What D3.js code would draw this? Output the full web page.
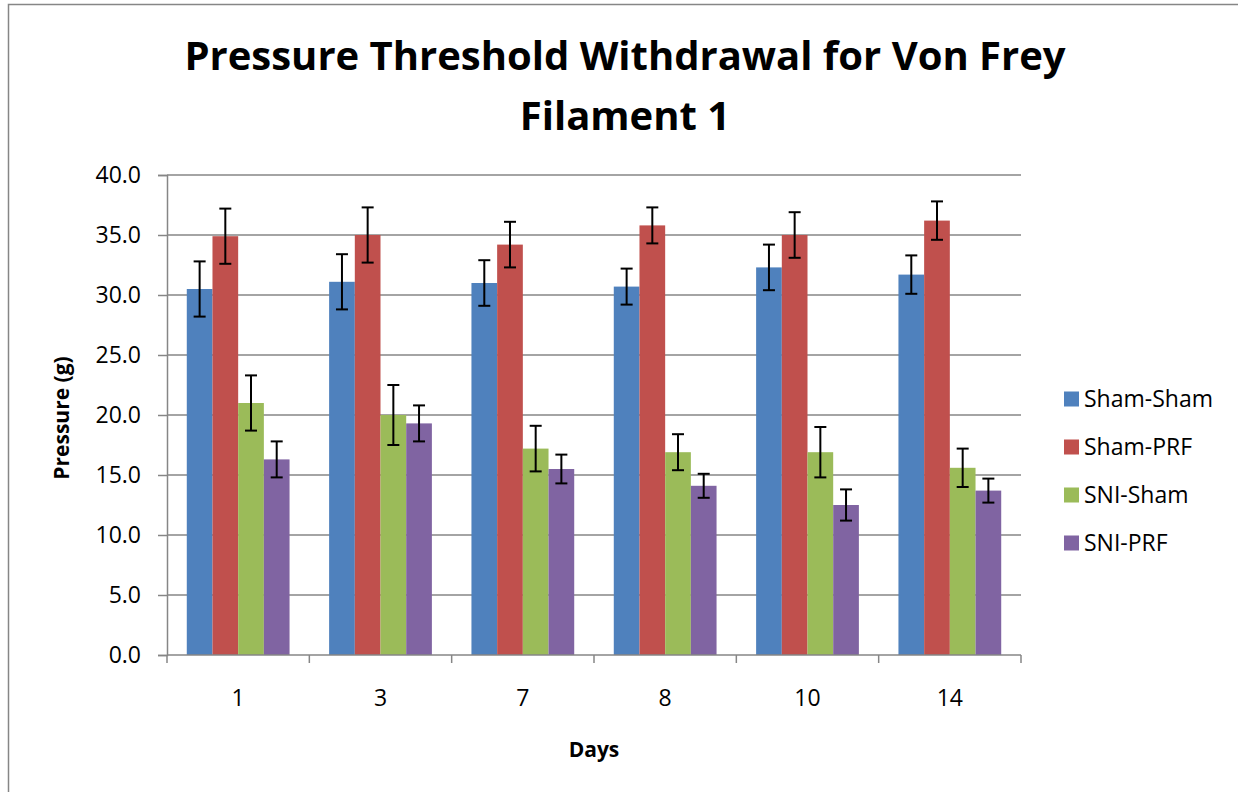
<!DOCTYPE html>
<html>
<head>
<meta charset="utf-8">
<script src="https://cdn.jsdelivr.net/npm/d3@7"></script>
<style>
  html, body { margin: 0; padding: 0; background: #fff; }
  svg { display: block; font-family: "Open Sans", sans-serif; }
</style>
</head>
<body>
<div id="chart"></div>
<script>
// Data.
var days = ['1', '3', '7', '8', '10', '14'];
var groups = ['Sham-Sham', 'Sham-PRF', 'SNI-Sham', 'SNI-PRF'];
var groupColors = ['#4F81BD', '#C0504D', '#9BBB59', '#8064A2'];

// Mean pressure per group, one value per day.
var shamSham = [30.5, 31.1, 31.0, 30.7, 32.3, 31.7];
var shamPrf  = [34.9, 35.0, 34.2, 35.8, 35.0, 36.2];
var sniSham  = [21.0, 20.0, 17.2, 16.9, 16.9, 15.6];
var sniPrf   = [16.3, 19.3, 15.5, 14.1, 12.5, 13.7];

// Error (+/-) per group, one value per day.
var shamShamErr = [2.3, 2.3, 1.9, 1.5, 1.9, 1.6];
var shamPrfErr  = [2.3, 2.3, 1.9, 1.5, 1.9, 1.6];
var sniShamErr  = [2.3, 2.5, 1.9, 1.5, 2.1, 1.6];
var sniPrfErr   = [1.5, 1.5, 1.2, 1.0, 1.3, 1.0];

var yTicks = [0, 5, 10, 15, 20, 25, 30, 35, 40];

var series = [shamSham, shamPrf, sniSham, sniPrf];
var seriesErr = [shamShamErr, shamPrfErr, sniShamErr, sniPrfErr];

var width = 1238, height = 792;
var plot = { left: 167, right: 1021, top: 175, bottom: 655 };
var grey = '#868686';

var svg = d3.select('#chart').append('svg')
    .attr('width', width)
    .attr('height', height);

// Chart border (runs off the right and bottom edges like the picture).
svg.append('rect')
    .attr('x', 8.5).attr('y', 4.5)
    .attr('width', 1300).attr('height', 900)
    .attr('fill', 'none')
    .attr('stroke', grey)
    .attr('stroke-width', 1.5);

// Scales.
var x0 = d3.scaleBand().domain(days).range([plot.left, plot.right]).padding(0);
var x1 = d3.scaleBand().domain(groups).range([0, x0.bandwidth()]).paddingInner(0).paddingOuter(0.77);
var y = d3.scaleLinear().domain([0, 40]).range([plot.bottom, plot.top]);

// Gridlines.
svg.append('g')
    .selectAll('line')
    .data(yTicks.filter(d => d > 0))
    .join('line')
    .attr('x1', plot.left).attr('x2', plot.right)
    .attr('y1', d => y(d)).attr('y2', d => y(d))
    .attr('stroke', grey).attr('stroke-width', 1.5);

// Bars.
var rows = days.map((d, i) => ({ day: d, values: groups.map((g, j) => ({ group: g, j: j, value: series[j][i], err: seriesErr[j][i] })) }));

var dayG = svg.append('g')
    .selectAll('g')
    .data(rows)
    .join('g')
    .attr('transform', d => 'translate(' + x0(d.day) + ',0)');

dayG.selectAll('rect')
    .data(d => d.values)
    .join('rect')
    .attr('x', d => x1(d.group))
    .attr('y', d => y(d.value))
    .attr('width', x1.bandwidth())
    .attr('height', d => y(0) - y(d.value))
    .attr('fill', d => groupColors[d.j]);

// Error bars.
var cap = 6;
var errG = dayG.selectAll('g.err')
    .data(d => d.values)
    .join('g')
    .attr('class', 'err')
    .attr('stroke', '#000')
    .attr('stroke-width', 2);

errG.append('line')
    .attr('x1', d => x1(d.group) + x1.bandwidth() / 2)
    .attr('x2', d => x1(d.group) + x1.bandwidth() / 2)
    .attr('y1', d => y(d.value + d.err))
    .attr('y2', d => y(d.value - d.err));
errG.append('line')
    .attr('x1', d => x1(d.group) + x1.bandwidth() / 2 - cap)
    .attr('x2', d => x1(d.group) + x1.bandwidth() / 2 + cap)
    .attr('y1', d => y(d.value + d.err))
    .attr('y2', d => y(d.value + d.err));
errG.append('line')
    .attr('x1', d => x1(d.group) + x1.bandwidth() / 2 - cap)
    .attr('x2', d => x1(d.group) + x1.bandwidth() / 2 + cap)
    .attr('y1', d => y(d.value - d.err))
    .attr('y2', d => y(d.value - d.err));

// Y axis.
var yAxis = svg.append('g')
    .attr('transform', 'translate(' + plot.left + ',0)')
    .call(d3.axisLeft(y).tickValues(yTicks).tickFormat(d3.format('.1f')).tickSizeOuter(0).tickSize(9).tickPadding(17));
yAxis.select('.domain').attr('stroke', grey).attr('stroke-width', 1.5);
yAxis.selectAll('.tick line').attr('stroke', grey).attr('stroke-width', 1.5);
yAxis.selectAll('.tick text')
    .attr('font-size', 23)
    .attr('font-family', '"Open Sans", sans-serif')
    .attr('fill', '#000');

// X axis: ticks sit on the category boundaries.
var xAxisG = svg.append('g').attr('transform', 'translate(0,' + plot.bottom + ')');
xAxisG.append('line')
    .attr('x1', plot.left).attr('x2', plot.right)
    .attr('stroke', grey).attr('stroke-width', 1.5);
var bounds = days.map(d => x0(d)).concat([x0(days[days.length - 1]) + x0.bandwidth()]);
xAxisG.selectAll('line.tk')
    .data(bounds)
    .join('line')
    .attr('class', 'tk')
    .attr('x1', d => d).attr('x2', d => d)
    .attr('y1', 0).attr('y2', 8)
    .attr('stroke', grey).attr('stroke-width', 1.5);
xAxisG.selectAll('text')
    .data(days)
    .join('text')
    .attr('x', d => x0(d) + x0.bandwidth() / 2)
    .attr('y', 51)
    .attr('text-anchor', 'middle')
    .attr('font-size', 23)
    .text(d => d);

// Axis titles.
svg.append('text')
    .attr('x', 594).attr('y', 757)
    .attr('text-anchor', 'middle')
    .attr('font-size', 21).attr('font-weight', 'bold')
    .text('Days');

svg.append('text')
    .attr('transform', 'translate(69,418) rotate(-90)')
    .attr('text-anchor', 'middle')
    .attr('font-size', 21).attr('font-weight', 'bold')
    .text('Pressure (g)');

// Title.
var title = svg.append('text')
    .attr('text-anchor', 'middle')
    .attr('font-size', 40).attr('font-weight', 'bold');
title.append('tspan').attr('x', 625).attr('y', 70).text('Pressure Threshold Withdrawal for Von Frey');
title.append('tspan').attr('x', 625).attr('y', 130).text('Filament 1');

// Legend.
var legend = svg.append('g')
    .selectAll('g')
    .data(groups)
    .join('g')
    .attr('transform', (d, i) => 'translate(1064,' + (399 + i * 48) + ')');
legend.append('rect')
    .attr('x', 0).attr('y', -7.5)
    .attr('width', 15).attr('height', 15)
    .attr('fill', (d, i) => groupColors[i]);
legend.append('text')
    .attr('x', 20).attr('y', 8)
    .attr('font-size', 23)
    .text(d => d);
</script>
</body>
</html>
